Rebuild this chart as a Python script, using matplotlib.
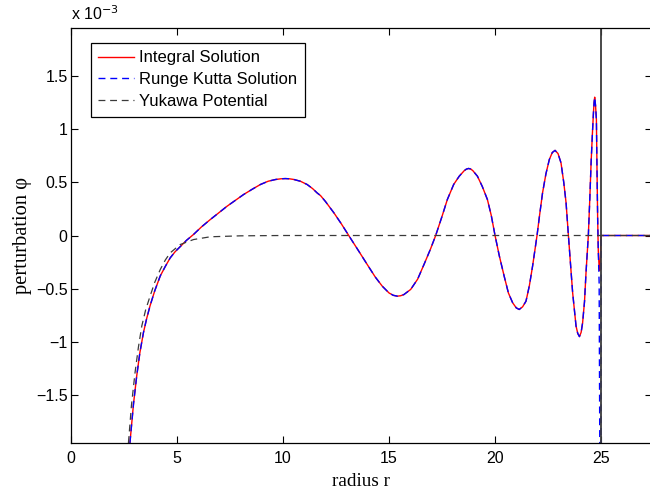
import matplotlib
matplotlib.use('Agg')
import matplotlib.pyplot as plt
from matplotlib.ticker import FuncFormatter

# values (phi in units of 1e-3)
r_int = [2.78, 2.95, 3.10, 3.25, 3.42, 3.57, 3.73, 3.95, 4.21, 4.45, 4.68, 4.90,
         5.15, 5.45, 5.78, 6.15, 6.57, 6.95, 7.36, 7.75, 8.14, 8.55, 8.93, 9.30,
         9.64, 9.90, 10.11, 10.30, 10.50, 10.82, 11.14, 11.40, 11.61, 11.77, 12.00, 12.40, 12.75,
         13.10, 13.55, 13.97, 14.35, 14.68, 15.00, 15.20, 15.39, 15.55, 15.70, 16.02, 16.35, 16.65,
         16.95, 17.20, 17.50, 17.75, 18.05, 18.31, 18.55, 18.65, 18.75, 18.85, 18.95, 19.17, 19.40,
         19.64, 19.82, 20.00, 20.20, 20.43, 20.63, 20.83, 21.00, 21.14, 21.30, 21.46,
         21.62, 21.77, 21.98, 22.10, 22.24, 22.40, 22.56, 22.70, 22.83, 22.97, 23.11,
         23.24, 23.35, 23.46, 23.56, 23.66, 23.82, 23.90, 23.98, 24.06, 24.13, 24.22,
         24.29, 24.40, 24.47, 24.53, 24.59, 24.64, 24.67, 24.70, 24.74, 24.78, 24.81,
         24.84, 24.87, 24.91, 24.94, 24.97, 25.00, 27.40]
phi_int = [-1.95, -1.58, -1.32, -1.10, -0.91, -0.78, -0.66, -0.52, -0.38, -0.29, -0.21, -0.155,
           -0.105, -0.045, 0.01, 0.08, 0.15, 0.21, 0.275, 0.33, 0.385, 0.435, 0.479, 0.51,
           0.526, 0.533, 0.535, 0.533, 0.527, 0.51, 0.479, 0.44, 0.40, 0.375, 0.32, 0.213, 0.11,
           0.0, -0.14, -0.272, -0.39, -0.476, -0.54, -0.562, -0.57, -0.566, -0.555, -0.507, -0.41, -0.272,
           -0.13, 0.0, 0.18, 0.338, 0.48, 0.557, 0.61, 0.624, 0.63, 0.625, 0.61, 0.557, 0.46,
           0.338, 0.19, 0.0, -0.19, -0.382, -0.54, -0.632, -0.68, -0.695, -0.67, -0.617,
           -0.47, -0.288, 0.0, 0.19, 0.40, 0.58, 0.714, 0.78, 0.80, 0.77, 0.683,
           0.50, 0.307, 0.0, -0.27, -0.538, -0.851, -0.92, -0.95, -0.91, -0.82, -0.62,
           -0.35, 0.0, 0.35, 0.683, 0.95, 1.15, 1.25, 1.30, 1.22, 1.09, 0.60,
           0.15, -0.15, -0.30, -0.33, -0.20, 0.0, 0.0]

# Runge Kutta follows the integral solution, then diverges just before r = 25
rk_split = 109
r_rk = r_int[:rk_split] + [24.91, 24.95, 25.00, 25.00, 27.40]
phi_rk = phi_int[:rk_split] + [-0.45, -2.5, -2.5, 0.0, 0.0]

r_yuk = [2.71, 2.85, 3.02, 3.18, 3.34, 3.52, 3.73, 3.95, 4.21, 4.45, 4.68, 5.15,
         5.78, 6.57, 8.00, 10.00, 27.40]
phi_yuk = [-1.95, -1.60, -1.29, -1.05, -0.85, -0.70, -0.57, -0.44, -0.32, -0.23, -0.163, -0.085,
           -0.038, -0.012, -0.003, 0.0, 0.0]

boundary_r = 25
xticks = [0, 5, 10, 15, 20, 25]
yticks = [-1.5, -1, -0.5, 0, 0.5, 1, 1.5]

fig = plt.figure(figsize=(6.5, 4.93), dpi=100)
ax = fig.add_axes([0.1092, 0.1014, 0.8938, 0.8418])

ax.plot(r_int, phi_int, 'r-', lw=1.0, label='Integral Solution')
ax.plot(r_rk, phi_rk, 'b--', lw=1.0, dashes=(5, 3.5), label='Runge Kutta Solution')
ax.plot(r_yuk, phi_yuk, '--', color='#3a3a3a', lw=0.9, dashes=(5.5, 3.8), label='Yukawa Potential')
ax.axvline(boundary_r, color='#3c3c3c', lw=1.3)

ax.set_xlim(0, 27.4)
ax.set_ylim(-1.95, 1.95)
ax.set_xticks(xticks)
ax.set_yticks(yticks)
ax.yaxis.set_major_formatter(FuncFormatter(lambda v, p: ('%g' % v).replace('-', '\u2212')))
ax.tick_params(direction='in', top=True, right=True, length=5, width=0.8,
               labelsize=11.5)
ax.tick_params(axis='x', pad=5.5)
ax.tick_params(axis='y', pad=2.5)
for lab in ax.get_xticklabels() + ax.get_yticklabels():
    lab.set_family('Liberation Sans')
for sp in ax.spines.values():
    sp.set_linewidth(0.9)

ax.set_xlabel('radius r', family='Liberation Serif', fontsize=13.8, labelpad=5)
ax.set_ylabel('perturbation \u03c6', family='Liberation Serif', fontsize=14.8, labelpad=3)
ax.text(0.0, 1.012, r'x 10$^{-3}$', transform=ax.transAxes, fontsize=11.5,
        family='Liberation Sans', va='bottom', ha='left')

leg = ax.legend(loc='upper left', bbox_to_anchor=(0.034, 0.964), fancybox=False,
                edgecolor='black', framealpha=1, borderpad=0.45, labelspacing=0.41,
                handlelength=2.15, handletextpad=0.3, borderaxespad=0,
                prop={'family': 'Liberation Sans', 'size': 12})
leg.get_frame().set_linewidth(0.9)

fig.savefig('out.png', dpi=100)
